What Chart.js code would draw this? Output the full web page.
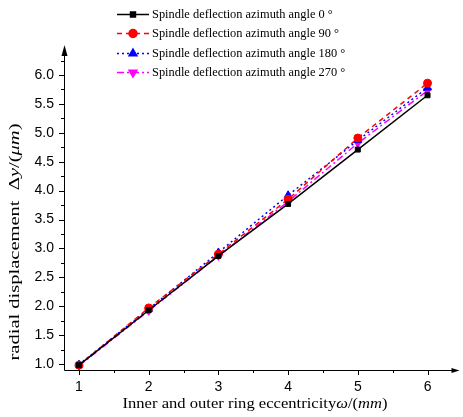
<!DOCTYPE html>
<html>
<head>
<meta charset="utf-8">
<script src="https://cdn.jsdelivr.net/npm/chart.js@4.4.0/dist/chart.umd.min.js"></script>
<style>
  body { margin: 0; background: #fff; }
  #wrap { width: 463px; height: 417px; }
</style>
</head>
<body>
<div id="wrap"><canvas id="eccChart"></canvas></div>
<script>
const eccentricity = [1, 2, 3, 4, 5, 6];
const angle0 = [0.98, 1.93, 2.87, 3.77, 4.71, 5.65];
const angle90 = [0.98, 1.97, 2.90, 3.85, 4.91, 5.86];
const angle180 = [0.99, 1.95, 2.93, 3.92, 4.87, 5.78];
const angle270 = [0.97, 1.92, 2.87, 3.81, 4.82, 5.73];
const seriesLabels = [
  "Spindle deflection azimuth angle 0 \u00b0",
  "Spindle deflection azimuth angle 90 \u00b0",
  "Spindle deflection azimuth angle 180 \u00b0",
  "Spindle deflection azimuth angle 270 \u00b0",
];
const xTicks = [1, 2, 3, 4, 5, 6];
const yTicks = [1.0, 1.5, 2.0, 2.5, 3.0, 3.5, 4.0, 4.5, 5.0, 5.5, 6.0];

const toPoints = (vals) => vals.map((v, i) => ({ x: eccentricity[i], y: v }));

const styles = [
  { color: "#000000", dash: [], point: "rect", radius: 3.5, rot: 0 },
  { color: "#ff0000", dash: [5, 4], point: "circle", radius: 4, rot: 0 },
  { color: "#0000ff", dash: [2, 3], point: "triangle", radius: 4.5, rot: 0 },
  { color: "#ff00ff", dash: [7, 3, 2, 3], point: "triangle", radius: 4.5, rot: 180 },
];
const seriesData = [angle0, angle90, angle180, angle270];

const datasets = seriesData.map((vals, i) => ({
  label: seriesLabels[i],
  data: toPoints(vals),
  borderColor: styles[i].color,
  backgroundColor: styles[i].color,
  borderWidth: 1.5,
  borderDash: styles[i].dash,
  pointStyle: styles[i].point,
  pointRadius: styles[i].radius,
  pointRotation: styles[i].rot,
  pointBorderWidth: 1,
  tension: 0,
}));

// draws a title made of plain/italic pieces, centred and stretched to a width
function drawMixed(ctx, parts, size, targetW) {
  let w = 0;
  parts.forEach(([t, it]) => {
    ctx.font = (it ? "italic " : "") + size + "px 'Liberation Serif'";
    w += ctx.measureText(t).width;
  });
  ctx.scale(targetW / w, 1);
  let x = -w / 2;
  parts.forEach(([t, it]) => {
    ctx.font = (it ? "italic " : "") + size + "px 'Liberation Serif'";
    ctx.fillText(t, x, 0);
    x += ctx.measureText(t).width;
  });
}

const decorPlugin = {
  id: "decor",
  afterDraw(chart) {
    const { ctx, chartArea, scales } = chart;
    const L = chartArea.left, B = chartArea.bottom, T = chartArea.top, R = chartArea.right;
    ctx.save();
    ctx.strokeStyle = "#000";
    ctx.fillStyle = "#000";
    ctx.lineWidth = 1;
    ctx.setLineDash([]);
    // axis lines
    ctx.beginPath();
    ctx.moveTo(L + 0.5, T + 8);
    ctx.lineTo(L + 0.5, B + 0.5);
    ctx.lineTo(R - 4, B + 0.5);
    ctx.stroke();
    // arrows
    ctx.beginPath();
    ctx.moveTo(L + 0.5, T);
    ctx.lineTo(L - 2.5, T + 11);
    ctx.lineTo(L + 3.5, T + 11);
    ctx.closePath();
    ctx.fill();
    ctx.beginPath();
    ctx.moveTo(R + 2, B + 0.5);
    ctx.lineTo(R - 6, B - 2);
    ctx.lineTo(R - 6, B + 3);
    ctx.closePath();
    ctx.fill();
    // y ticks
    ctx.beginPath();
    for (let v = 1.0; v <= 6.26; v += 0.25) {
      const y = Math.round(scales.y.getPixelForValue(v)) + 0.5;
      const major = Math.abs(v * 2 - Math.round(v * 2)) < 1e-6;
      ctx.moveTo(L, y);
      ctx.lineTo(L - (major ? 5 : 3), y);
    }
    // x ticks
    for (let v = 1; v <= 6.01; v += 0.5) {
      const x = Math.round(scales.x.getPixelForValue(v)) + 0.5;
      const major = Math.abs(v - Math.round(v)) < 1e-6;
      ctx.moveTo(x, B);
      ctx.lineTo(x, B + (major ? 5 : 3));
    }
    ctx.stroke();

    // axis titles
    ctx.textBaseline = "middle";
    ctx.save();
    ctx.translate(255, 404);
    drawMixed(ctx, [["Inner and outer ring eccentricity", false], ["\u03c9", true], ["/(", false], ["mm", true], [")", false]], 15, 265);
    ctx.restore();
    ctx.save();
    ctx.translate(15, 242);
    ctx.rotate(-Math.PI / 2);
    drawMixed(ctx, [["radial displacement  \u0394", false], ["y", true], ["/(", false], ["\u03bcm", true], [")", false]], 15, 237);
    ctx.restore();

    // legend
    const rows = [14, 33, 53, 72];
    chart.data.datasets.forEach((ds, i) => {
      const y = rows[i];
      ctx.strokeStyle = ds.borderColor;
      ctx.lineWidth = 1.5;
      ctx.setLineDash(ds.borderDash);
      ctx.beginPath();
      ctx.moveTo(117, y + 0.5);
      ctx.lineTo(149, y + 0.5);
      ctx.stroke();
      ctx.setLineDash([]);
      Chart.helpers.drawPoint(ctx, {
        pointStyle: ds.pointStyle,
        radius: ds.pointRadius,
        rotation: ds.pointRotation,
        borderWidth: 1,
      }, 133, y + 0.5);
      ctx.fillStyle = ds.borderColor;
      ctx.fill();
      ctx.fillStyle = "#000";
      ctx.font = "12.4px 'Liberation Serif'";
      ctx.textAlign = "left";
      ctx.fillText(ds.label, 152, y + 1);
    });
    ctx.restore();
  },
};

const eccConfig = {
  type: "line",
  data: { datasets: datasets },
  options: {
    responsive: true,
    maintainAspectRatio: false,
    animation: false,
    layout: { padding: { top: 45, right: 3, left: 0, bottom: 0 } },
    plugins: { legend: { display: false }, tooltip: { enabled: false } },
    scales: {
      x: {
        type: "linear",
        min: 0.785,
        max: 6.43,
        grid: { display: false, drawTicks: false },
        border: { display: false },
        afterBuildTicks: (s) => { s.ticks = xTicks.map((v) => ({ value: v })); },
        afterFit: (s) => { s.height = 47; },
        ticks: {
          padding: 9,
          color: "#000",
          font: { family: "'Liberation Sans'", size: 14 },
          callback: (v) => String(v),
        },
      },
      y: {
        type: "linear",
        min: 0.896,
        max: 6.52,
        grid: { display: false, drawTicks: false },
        border: { display: false },
        afterBuildTicks: (s) => { s.ticks = yTicks.map((v) => ({ value: v })); },
        afterFit: (s) => { s.width = 64; },
        ticks: {
          padding: 10,
          color: "#000",
          font: { family: "'Liberation Sans'", size: 14 },
          callback: (v) => Number(v).toFixed(1),
        },
      },
    },
  },
  plugins: [decorPlugin],
};

const eccChart = new Chart(document.getElementById("eccChart"), eccConfig);
</script>
</body>
</html>
